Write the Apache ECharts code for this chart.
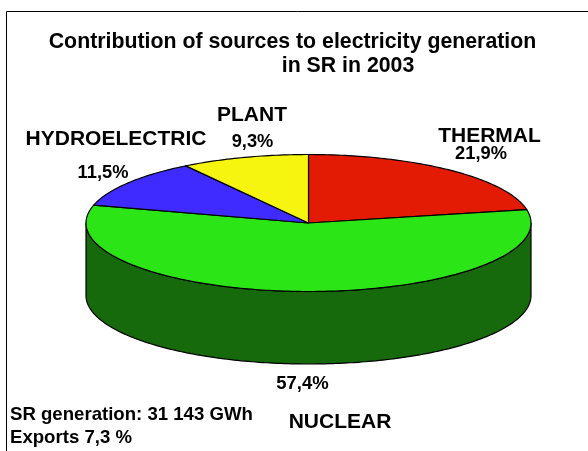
<!DOCTYPE html>
<html>
<head>
<meta charset="utf-8">
<style>html,body{margin:0;padding:0;background:#fff}#c{width:588px;height:451px}</style>
<script src="https://cdn.jsdelivr.net/npm/echarts@6/dist/echarts.min.js"></script>
</head>
<body>
<div id="c"></div>
<script>
const categories = ['THERMAL', 'NUCLEAR', 'HYDROELECTRIC', 'PLANT'];
const shares = [21.9, 57.4, 11.5, 9.3];
const titleLines = ['Contribution of sources to electricity generation', 'in SR in 2003'];
const notes = ['SR generation: 31 143 GWh', 'Exports 7,3 %'];

const colors = ['#E31A04', '#2BE516', '#3F2BFF', '#F6F510'];
const wallColor = '#166A0C';
const CX = 308.5, CY = 223, RX = 222.5, RY = 68.5, DEPTH = 72.5;
const FONT = '"Liberation Sans", Arial, sans-serif';
const total = shares.reduce((a, b) => a + b, 0);
let run = 0;
const pieData = shares.map((v, i) => { const s = run; run += v; return { name: categories[i], value: [v, s] }; });

function pt(a, dy) { return [CX + RX * Math.sin(a), CY + dy - RY * Math.cos(a)]; }
function arc(a0, a1, dy) {
  const n = Math.max(2, Math.ceil((a1 - a0) * 60)), out = [];
  for (let k = 0; k <= n; k++) out.push(pt(a0 + (a1 - a0) * k / n, dy));
  return out;
}
const line = { stroke: '#000', lineWidth: 1.2, lineJoin: 'round' };
function renderSlice(params, api) {
  const v = api.value(0), s = api.value(1);
  const a0 = s / total * 2 * Math.PI, a1 = (s + v) / total * 2 * Math.PI;
  const children = [];
  const wa0 = Math.max(a0, Math.PI / 2), wa1 = Math.min(a1, 3 * Math.PI / 2);
  if (wa1 > wa0) {
    const pts = arc(wa0, wa1, 0).concat(arc(wa0, wa1, DEPTH).reverse());
    children.push({ type: 'polygon', shape: { points: pts }, style: Object.assign({ fill: wallColor }, line) });
  }
  const top = [[CX, CY]].concat(arc(a0, a1, 0));
  children.push({ type: 'polygon', shape: { points: top }, style: Object.assign({ fill: colors[params.dataIndex] }, line) });
  return { type: 'group', children: children };
}
function text(str, x, y, size, align) {
  return { type: 'text', x: x, y: y, style: { text: str, fill: '#000', font: 'bold ' + size + 'px ' + FONT, textAlign: align || 'center', textVerticalAlign: 'middle' } };
}
const pct = i => shares[i].toFixed(1).replace('.', ',') + '%';

const chart = echarts.init(document.getElementById('c'), null, { renderer: 'canvas' });
chart.setOption({
  animation: false,
  backgroundColor: '#fff',
  series: [{
    type: 'custom',
    coordinateSystem: 'none',
    renderItem: renderSlice,
    data: pieData,
    silent: true,
    z: 2
  }],
  graphic: [
    { type: 'rect', shape: { x: 6.5, y: 11.5, width: 800, height: 800 }, style: { fill: 'none', stroke: '#000', lineWidth: 1 }, z: 1 },
    text(titleLines[0], 292.5, 42, 21.3),
    text(titleLines[1], 348, 66, 21.3),
    text(categories[0], 489.5, 136, 21),
    text(pct(0), 481, 154, 18.3),
    text(pct(1), 302.5, 384, 18.5),
    text(categories[1], 340, 422, 21),
    text(categories[2], 116, 139, 21),
    text(pct(2), 103, 173, 18.3),
    text(categories[3], 252, 115, 21),
    text(pct(3), 252.5, 142, 18.3),
    text(notes[0], 10, 415, 18.6, 'left'),
    text(notes[1], 10, 438, 18.6, 'left')
  ]
});
</script>
</body>
</html>
